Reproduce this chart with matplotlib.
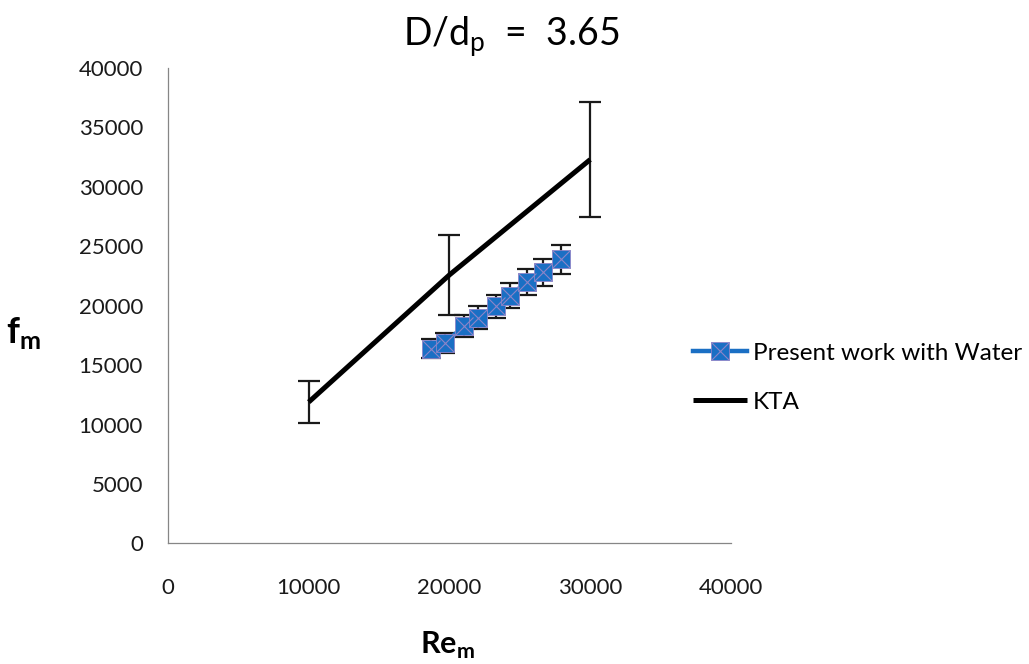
import matplotlib
matplotlib.use("Agg")
import matplotlib.pyplot as plt
from matplotlib.legend_handler import HandlerTuple

plt.rcParams["font.family"] = ["Lato", "DejaVu Sans"]
plt.rcParams["mathtext.fontset"] = "custom"
plt.rcParams["mathtext.rm"] = "Lato"
plt.rcParams["mathtext.bf"] = "Lato:bold"

# Measured friction factor vs modified Reynolds number (water)
re_water = [18700, 19700, 21050, 22050, 23300, 24300, 25500, 26650, 27950]
f_water = [16400, 16900, 18300, 19000, 19950, 20850, 22000, 22800, 23900]
water_err_frac = 0.05

# KTA correlation
re_kta = [10000, 20000, 30000]
f_kta = [11900, 22600, 32300]
kta_err_frac = 0.15

x_ticks = [0, 10000, 20000, 30000, 40000]
y_ticks = [0, 5000, 10000, 15000, 20000, 25000, 30000, 35000, 40000]

blue = "#1a6fc4"
cross = "#8c84c8"

fig = plt.figure(figsize=(10.29, 6.64), dpi=100)
ax = fig.add_axes([0.1633, 0.1815, 0.547, 0.716])

# KTA line with ±15 % bars
ax.errorbar(re_kta, f_kta, yerr=[v * kta_err_frac for v in f_kta],
            fmt="none", ecolor="#1a1a1a", elinewidth=1.6,
            capsize=8, capthick=1.6, zorder=2)
(kta_line,) = ax.plot(re_kta, f_kta, color="black", lw=3.6,
                      solid_capstyle="butt", zorder=3)

# Present work: blue line with square markers and ±5 % bars
ax.errorbar(re_water, f_water, yerr=[v * water_err_frac for v in f_water],
            fmt="none", ecolor="#1a1a1a", elinewidth=1.6, capsize=7,
            capthick=1.6, zorder=2)
(water_line,) = ax.plot(re_water, f_water, color=blue, lw=3.2, marker="s",
                        markersize=13, markerfacecolor=blue,
                        markeredgecolor=cross, markeredgewidth=0.6,
                        zorder=4)
(water_cross,) = ax.plot(re_water, f_water, ls="none", marker="x",
                         markersize=12.5, markeredgecolor=cross,
                         markeredgewidth=0.8, zorder=5)

ax.set_xlim(0, 40000)
ax.set_ylim(0, 40000)
ax.set_xticks(x_ticks)
ax.set_yticks(y_ticks)
ax.tick_params(axis="both", length=0, labelsize=16, colors="#1a1a1a")
ax.tick_params(axis="x", pad=25)
ax.tick_params(axis="y", pad=18)

for side in ("top", "right"):
    ax.spines[side].set_visible(False)
for side in ("left", "bottom"):
    ax.spines[side].set_color("#868686")
    ax.spines[side].set_linewidth(0.9)

ax.set_xlabel(r"$\mathbf{Re}_{\mathbf{m}}$", fontsize=22)
ax.xaxis.set_label_coords(0.497, -0.2135)
ax.xaxis.label.set_va("center")
ax.set_ylabel(r"$\mathbf{f}_{\mathbf{m}}$", fontsize=26, rotation=0)
ax.yaxis.set_label_coords(-0.257, 0.443)
ax.yaxis.label.set_va("center")
ax.yaxis.label.set_ha("center")

fig.text(0.497, 0.945, r"D/d$_{\mathrm{p}}$  =  3.65", fontsize=27,
         ha="center", va="center", color="black")

fig.legend([(water_line, water_cross), kta_line],
           ["Present work with Water", "KTA"],
           handler_map={tuple: HandlerTuple(ndivide=1, pad=0)},
           loc="upper left", bbox_to_anchor=(0.6735, 0.484),
           frameon=False, fontsize=17.5, borderpad=0, borderaxespad=0,
           handlelength=2.2, handletextpad=0.25, labelspacing=1.15)

fig.savefig("out.png", dpi=100)
